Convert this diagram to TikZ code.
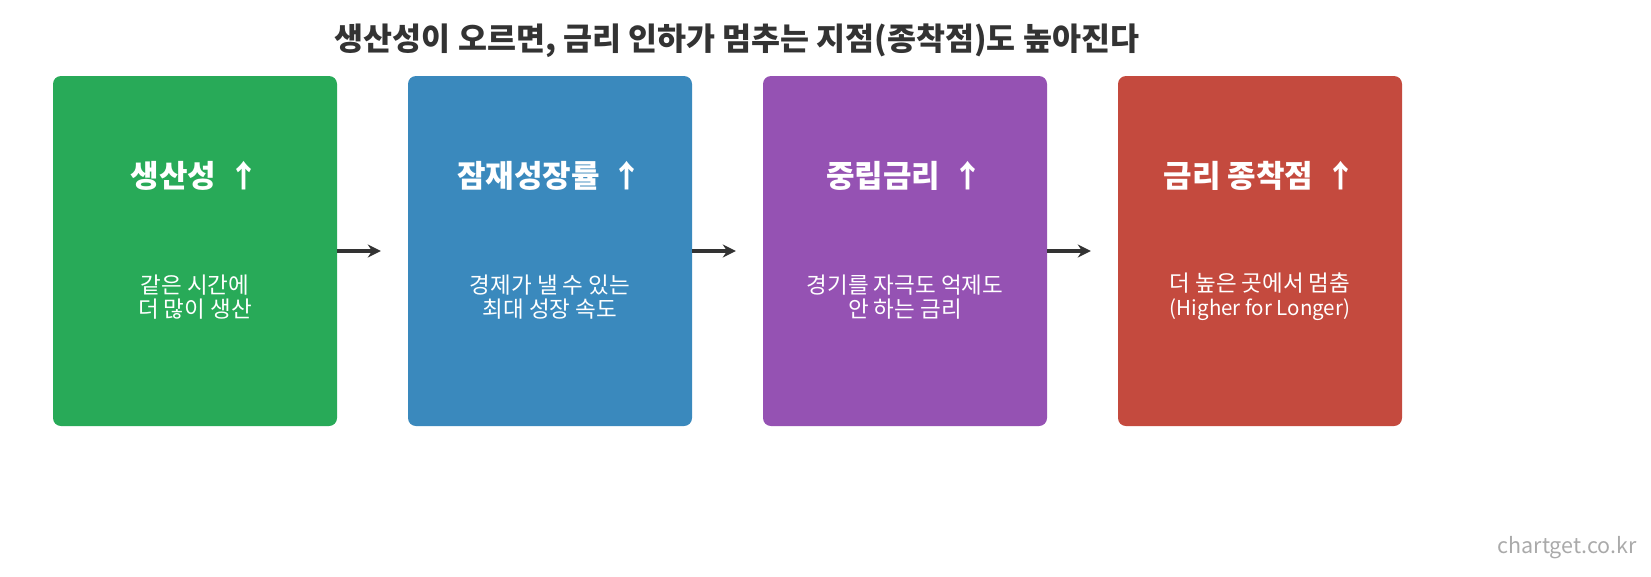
\documentclass[tikz,border=0pt]{standalone}
\usepackage{fontspec}
\setmainfont{Noto Sans CJK KR}
\usetikzlibrary{arrows.meta}
\definecolor{cgreen}{HTML}{28AA58}
\definecolor{cblue}{HTML}{3A89BD}
\definecolor{cpurple}{HTML}{9552B3}
\definecolor{cred}{HTML}{C44A3E}
\definecolor{ctitle}{HTML}{333333}
\definecolor{cmark}{HTML}{AAAAAA}
\tikzset{
  card/.style={rounded corners=8pt, minimum width=284pt, minimum height=350pt, inner sep=0pt},
  head/.style={text=white, font=\fontsize{31}{36}\selectfont\bfseries, inner sep=0pt},
  body/.style={text=white, font=\fontsize{22.5}{24}\selectfont, align=center, inner sep=0pt},
  flow/.style={draw=ctitle, line width=4.5pt, -{Stealth[length=13pt,width=13pt]}, shorten >=27pt},
}
\newcommand{\lat}[1]{{\fontsize{20.5}{24}\selectfont #1}}
\begin{document}
\begin{tikzpicture}[x=1pt,y=-1pt]
\useasboundingbox (0,0) rectangle (1651,576);
\node[font=\fontsize{31.5}{36}\selectfont\bfseries, text=ctitle, inner sep=0pt] (title) at (737,41) {생산성이 오르면, 금리 인하가 멈추는 지점(종착점)도 높아진다};

\node[card, fill=cgreen] (b1) at (195,251) {};
\node[card, fill=cblue] (b2) at (550,251) {};
\node[card, fill=cpurple] (b3) at (905,251) {};
\node[card, fill=cred] (b4) at (1260,251) {};

\node[head] (h1) at (195,176) {생산성 \,↑};
\node[head] (h2) at (550,176) {잠재성장률 \,↑};
\node[head] (h3) at (905,176) {중립금리 \,↑};
\node[head] (h4) at (1260,176) {금리 종착점 \,↑};

\node[body] (t1) at (195,297) {같은 시간에\\더 많이 생산};
\node[body] (t2) at (550,297) {경제가 낼 수 있는\\최대 성장 속도};
\node[body] (t3) at (905,297) {경기를 자극도 억제도\\안 하는 금리};
\node[body] (t4) at (1260,297) {더 높은 곳에서 멈춤\\\lat{(Higher for Longer)}};

\draw[flow] (b1) -- (b2);
\draw[flow] (b2) -- (b3);
\draw[flow] (b3) -- (b4);

\node[font=\fontsize{21.5}{24}\selectfont, text=cmark, anchor=east, inner sep=0pt] (mark) at (1637,548) {chartget.co.kr};
\end{tikzpicture}
\end{document}
